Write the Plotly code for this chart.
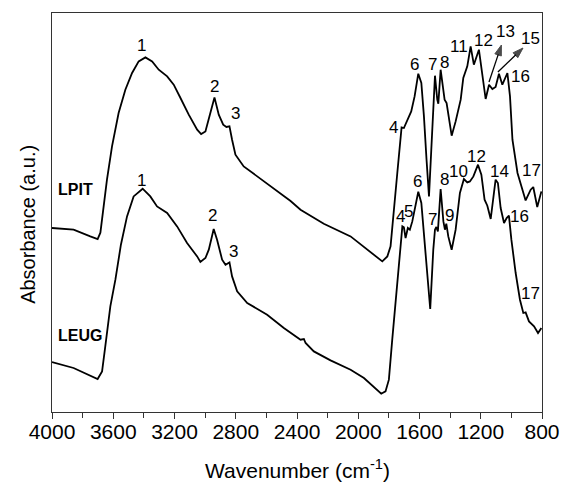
import plotly.graph_objects as go

# ---------------- data ----------------
lpit_wn = [4000, 3859, 3750, 3702, 3684, 3663, 3641, 3608, 3565, 3521, 3477, 3434, 3390, 3346,
           3303, 3248, 3205, 3161, 3107, 3052, 3026, 2998, 2970, 2939, 2911, 2882, 2861, 2841,
           2824, 2802, 2748, 2660, 2552, 2442, 2377, 2225, 2050, 1941, 1843, 1810, 1789, 1745,
           1717, 1702, 1680, 1654, 1632, 1608, 1588, 1571, 1554, 1538, 1523, 1510, 1499, 1484,
           1477, 1462, 1449, 1436, 1423, 1408, 1390, 1364, 1331, 1314, 1288, 1266, 1245, 1212,
           1190, 1168, 1146, 1124, 1103, 1081, 1059, 1026, 1009, 993, 960, 907, 874, 857, 831, 804]
lpit_abs = [184.0, 182.3, 175.6, 173.0, 179.3, 205.6, 232.3, 265.6, 299.0, 322.3, 339.0, 350.6, 354.6, 350.6,
            342.3, 335.6, 327.3, 314.0, 297.3, 282.3, 278.0, 280.6, 297.3, 314.6, 297.3, 287.3, 285.0, 285.6,
            272.3, 257.3, 245.6, 235.6, 224.0, 211.0, 202.3, 188.3, 175.6, 162.3, 150.6, 155.6, 165.6, 239.0,
            284.6, 284.0, 292.3, 300.6, 315.6, 338.3, 329.0, 295.6, 252.3, 215.6, 262.3, 312.3, 336.3, 312.3,
            308.3, 342.3, 329.0, 312.3, 309.0, 292.3, 276.3, 290.6, 312.3, 334.0, 345.6, 365.6, 347.3, 362.3,
            339.0, 313.0, 327.3, 323.0, 325.0, 338.3, 327.3, 339.0, 315.6, 272.3, 239.0, 211.6, 222.3, 225.0, 205.0, 220.6]

leug_wn = [4000, 3859, 3702, 3673, 3652, 3619, 3586, 3550, 3510, 3467, 3408, 3358, 3314, 3248, 3183,
           3118, 3052, 3031, 2998, 2976, 2944, 2922, 2889, 2867, 2841, 2824, 2791, 2725, 2595, 2486,
           2377, 2355, 2344, 2290, 2181, 2050, 1963, 1887, 1850, 1822, 1800, 1778, 1750, 1724, 1712,
           1702, 1691, 1676, 1663, 1647, 1632, 1608, 1588, 1571, 1530, 1510, 1499, 1490, 1480, 1462,
           1444, 1434, 1425, 1412, 1390, 1364, 1336, 1310, 1288, 1271, 1248, 1218, 1196, 1175, 1157,
           1135, 1118, 1103, 1088, 1070, 1048, 1031, 1016, 1000, 972, 944, 922, 907, 885, 852, 826, 804]
leug_abs = [50.0, 44.0, 33.0, 40.6, 65.6, 105.6, 132.3, 167.3, 195.6, 215.6, 223.3, 215.6, 205.6, 199.0, 185.6,
            169.0, 155.6, 150.0, 154.0, 162.3, 183.0, 172.3, 152.3, 147.3, 149.6, 135.6, 120.6, 109.0, 97.3, 84.0,
            72.3, 73.0, 69.0, 60.6, 51.6, 42.3, 34.0, 24.0, 18.3, 20.6, 32.3, 72.3, 122.3, 172.3, 185.6,
            184.6, 174.0, 184.0, 182.3, 190.6, 202.3, 220.3, 209.0, 179.0, 103.0, 162.3, 182.3, 185.0, 180.6, 223.0,
            190.6, 182.3, 188.3, 175.6, 162.3, 182.3, 219.0, 233.0, 229.6, 230.6, 235.6, 247.3, 237.3, 212.3, 206.3,
            193.0, 212.3, 232.3, 229.0, 204.0, 189.0, 194.0, 196.3, 172.3, 139.0, 112.3, 99.0, 99.6, 90.6, 85.6, 79.0, 84.0]

x_tickvals = [4000, 3600, 3200, 2800, 2400, 2000, 1600, 1200, 800]
x_minorvals = [3800, 3400, 3000, 2600, 2200, 1800, 1400, 1000]

# peak labels: (text, wavenumber, absorbance)
lpit_labels = ["1", "2", "3", "4", "6", "7", "8", "11", "12", "13", "15", "16", "17"]
lpit_lab_wn = [3416, 2939, 2802, 1771, 1632, 1516, 1436, 1343, 1179, 1037, 878, 939, 869]
lpit_lab_ab = [367, 326, 299, 285, 348, 348, 350, 366, 372, 381, 374, 336, 242]

leug_labels = ["1", "2", "3", "4", "5", "6", "7", "8", "9", "10", "12", "14", "16", "17"]
leug_lab_wn = [3416, 2954, 2817, 1724, 1669, 1610, 1512, 1440, 1401, 1343, 1227, 1076, 944, 878]
leug_lab_ab = [232, 197, 161, 196, 201, 231, 193, 233, 197, 241, 256, 241, 196, 119]

# arrows (tail -> head) for bands 13 and 15
arrow_tail_wn = [1146, 1088]
arrow_tail_ab = [330, 340]
arrow_head_wn = [1065, 924]
arrow_head_ab = [367, 364]

series_names = ["LPIT", "LEUG"]
series_name_wn = [3848, 3820]
series_name_ab = [223, 77]

FONT = "Arial, Liberation Sans, sans-serif"

fig = go.Figure()
fig.add_trace(go.Scatter(x=lpit_wn, y=lpit_abs, mode="lines",
                         line=dict(color="black", width=1.8), name="LPIT", showlegend=False))
fig.add_trace(go.Scatter(x=leug_wn, y=leug_abs, mode="lines",
                         line=dict(color="black", width=1.8), name="LEUG", showlegend=False))

# arrows as line + arrow-marker traces
for tx, ty, hx, hy in zip(arrow_tail_wn, arrow_tail_ab, arrow_head_wn, arrow_head_ab):
    fig.add_trace(go.Scatter(x=[tx, hx], y=[ty, hy], mode="lines+markers",
                             line=dict(color="black", width=1.3),
                             marker=dict(symbol=["circle", "arrow"], size=[0, 11], color="black",
                                         angleref="previous", line=dict(width=1, color="black")),
                             showlegend=False, hoverinfo="skip"))

ann = []
for t, xw, ya in zip(lpit_labels, lpit_lab_wn, lpit_lab_ab):
    ann.append(dict(x=xw, y=ya, text=t, showarrow=False, font=dict(size=17, color="black", family=FONT)))
for t, xw, ya in zip(leug_labels, leug_lab_wn, leug_lab_ab):
    ann.append(dict(x=xw, y=ya, text=t, showarrow=False, font=dict(size=17, color="black", family=FONT)))
for t, xw, ya in zip(series_names, series_name_wn, series_name_ab):
    ann.append(dict(x=xw, y=ya, text="<b>" + t + "</b>", showarrow=False,
                    font=dict(size=16, color="black", family=FONT)))

# axis titles
ann.append(dict(xref="paper", yref="paper", x=0.5, y=0, yshift=-57, yanchor="middle",
                text="Wavenumber (cm<sup>-1</sup>)", showarrow=False,
                font=dict(size=21, color="black", family=FONT)))
ann.append(dict(xref="paper", yref="paper", x=0, y=0.469, xshift=-24, xanchor="center", yanchor="middle",
                text="Absorbance (a.u.)", textangle=-90, showarrow=False,
                font=dict(size=20, color="black", family=FONT)))

fig.update_layout(
    width=561, height=490,
    margin=dict(l=52, r=19, t=13, b=78),
    paper_bgcolor="white", plot_bgcolor="white",
    annotations=ann,
    font=dict(family=FONT, color="black"),
)
fig.update_xaxes(range=[4000, 800], tickvals=x_tickvals, ticktext=[str(v) for v in x_tickvals],
                 ticks="outside", ticklen=6, tickwidth=1, tickcolor="#333", ticklabelstandoff=-5,
                 minor=dict(tickvals=x_minorvals, ticks="outside", ticklen=5, tickwidth=1, tickcolor="#333"),
                 showline=True, linecolor="#333", linewidth=1, mirror=True, automargin=False,
                 showgrid=False, zeroline=False, tickfont=dict(size=21, color="black", family=FONT))
fig.update_yaxes(range=[0, 399], showticklabels=False, ticks="", showline=True, linecolor="#333",
                 linewidth=1, mirror=True, showgrid=False, zeroline=False, automargin=False)

fig.write_html("out.html", config={"displayModeBar": False},
               post_script="document.body.style.margin='0';document.body.style.overflow='hidden';")
